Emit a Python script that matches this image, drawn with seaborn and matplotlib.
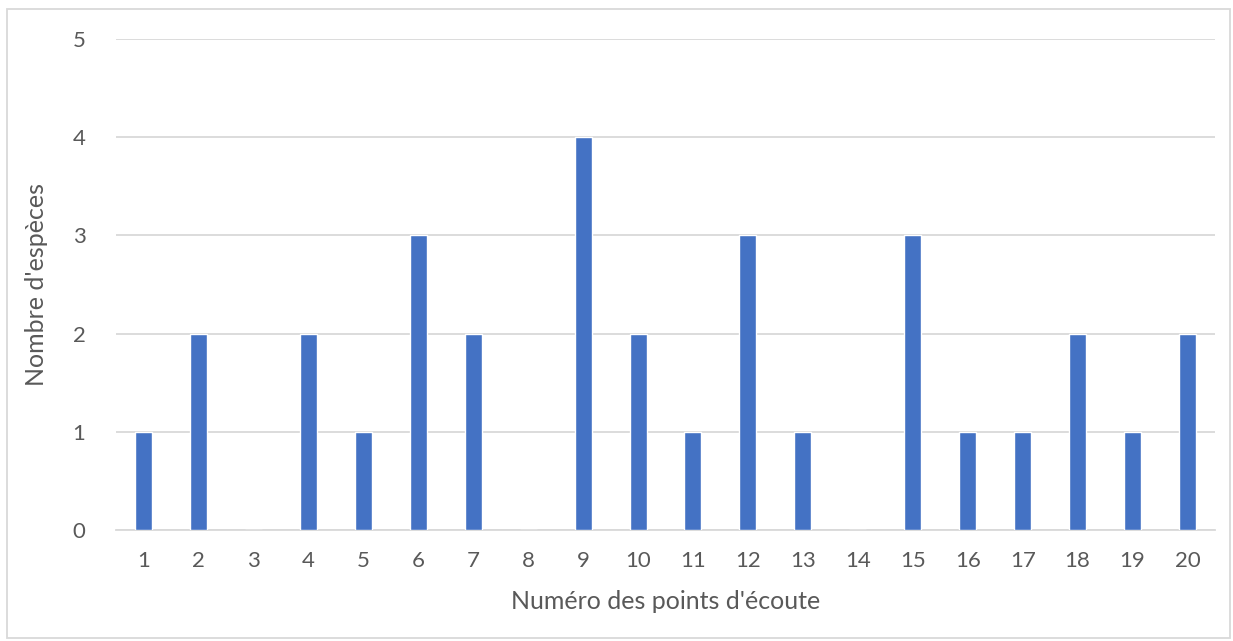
import matplotlib
matplotlib.use("Agg")
import matplotlib.pyplot as plt
import seaborn as sns
import pandas as pd
from matplotlib.patches import Rectangle

points = [str(i) for i in range(1, 21)]
especes = [1, 2, 0, 2, 1, 3, 2, 0, 4, 2, 1, 3, 1, 0, 3, 1, 1, 2, 1, 2]
yticks = [0, 1, 2, 3, 4, 5]

df = pd.DataFrame({"point": points, "n": especes})

sns.set_theme(style="white")
plt.rcParams['font.family'] = ['Lato', 'DejaVu Sans']

fig = plt.figure(figsize=(12.33, 6.41), dpi=100)
ax = fig.add_axes([116/1233, 1-530/641, (1215-116)/1233, (530-39)/641])

sns.barplot(data=df, x="point", y="n", color="#4472C4", width=0.31,
            saturation=1, ax=ax, zorder=3)

ax.set_ylim(0, 5)
ax.set_xlim(-0.5, len(points)-0.5)
ax.set_yticks(yticks)
ax.yaxis.grid(True, color="#D9D9D9", linewidth=1.3, zorder=0)
ax.set_axisbelow(True)
for s in ["top", "right", "left"]:
    ax.spines[s].set_visible(False)
ax.spines["bottom"].set_color("#D9D9D9")
ax.spines["bottom"].set_linewidth(1.3)
ax.tick_params(axis="both", length=0, labelsize=16, colors="#595959")
ax.tick_params(axis="x", pad=15)
ax.tick_params(axis="y", pad=22)
ax.set_xlabel("Numéro des points d'écoute", fontsize=18, color="#595959", labelpad=14)
ax.set_ylabel("Nombre d'espèces", fontsize=18, color="#595959", labelpad=18)

fig.patches.append(Rectangle((7/1233, 1-638/641), (1230-7)/1233, (638-9)/641,
                             transform=fig.transFigure, fill=False,
                             edgecolor="#D9D9D9", linewidth=1.3))

fig.savefig("out.png", dpi=100)
